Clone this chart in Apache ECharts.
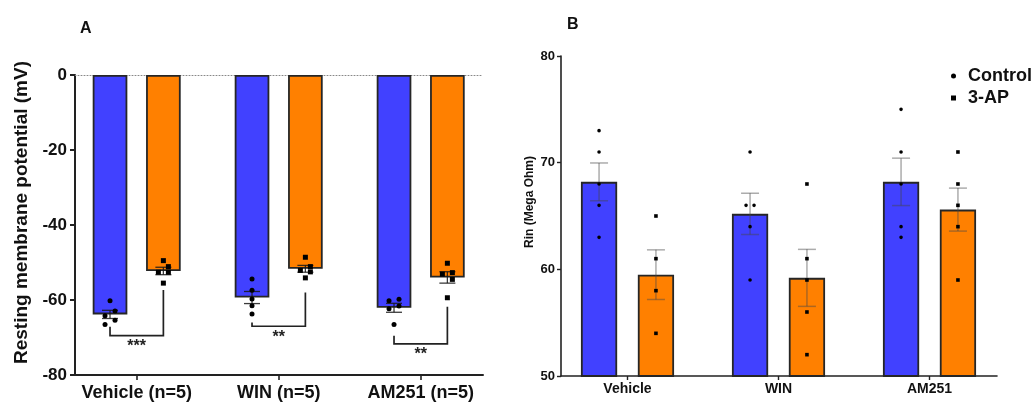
<!DOCTYPE html>
<html>
<head>
<meta charset="utf-8">
<script src="https://cdn.jsdelivr.net/npm/echarts@6/dist/echarts.min.js"></script>
<style>
html,body{margin:0;padding:0;background:#fff;}
#chart{width:1035px;height:402px;}
</style>
</head>
<body>
<div id="chart"></div>
<script>
// ---------------- DATA ----------------
// Panel A: resting membrane potential (mV), individual cells
const categoriesA = ['Vehicle (n=5)', 'WIN (n=5)', 'AM251 (n=5)'];
const controlA = [
  [-60.2, -62.9, -64.2, -65.4, -66.5],
  [-54.4, -57.4, -59.7, -61.5, -63.7],
  [-59.8, -60.2, -61.6, -62.3, -66.5]
];
const apA = [
  [-49.5, -51.1, -52.6, -52.6, -55.5],
  [-48.6, -51.1, -52.1, -52.5, -54.1],
  [-50.2, -52.7, -53.1, -54.5, -59.4]
];
// significance brackets: [control end, 3-AP end, bracket bottom] (mV)
const bracketA = [
  [-67.1, -57.3, -69.5],
  [-66.0, -58.0, -67.0],
  [-69.5, -61.8, -71.7]
];
const sigA = ['***', '**', '**'];
const yTicksA = { min: -80, max: 0, step: 20 };

// Panel B: input resistance (Mega Ohm)
const categoriesB = ['Vehicle', 'WIN', 'AM251'];
const controlB = [
  [73, 71, 68, 66, 63],
  [71, 66, 66, 64, 59],
  [75, 71, 68, 64, 63]
];
const apB = [
  [65, 61, 58, 54],
  [68, 61, 59, 56, 52],
  [71, 68, 66, 64, 59]
];
const yTicksB = { min: 50, max: 80, step: 10 };
const legendNames = ['Control', '3-AP'];

// ---------------- HELPERS ----------------
const FONT = "'Liberation Sans', Arial, Helvetica, sans-serif";
const BLUE = '#4141ff';
const ORANGE = '#ff8000';
const INK = '#111';

function mean(a) { return a.reduce((s, v) => s + v, 0) / a.length; }
function sem(a) {
  if (a.length < 2) return 0;
  const m = mean(a);
  const v = a.reduce((s, x) => s + (x - m) * (x - m), 0) / (a.length - 1);
  return Math.sqrt(v) / Math.sqrt(a.length);
}

// panel layout / style settings (axis indices of the data grid)
const PA = { xIdx: 0, yIdx: 0, barPct: 0.244, gapPct: 0.54, jitterStep: 5, jitterThr: 5.65,
  markSize: 5, capW: 16, errStroke: 'rgba(25,25,25,0.85)', errWidth: 1.3 };
const PB = { xIdx: 3, yIdx: 2, barPct: 0.24, gapPct: 0.57, jitterStep: 4, jitterThr: 5.65,
  markSize: 3.6, capW: 18, errStroke: 'rgba(70,70,70,0.45)', errWidth: 1.5 };

function sideOffset(api, P, side) {
  const band = api.size([1, 0])[0];
  const bw = band * P.barPct;
  return side * (bw + bw * P.gapPct) / 2;
}

// simple swarm: chains of vertically close points alternate right/left
function jitterSlots(ys, thr) {
  const idx = ys.map((_, i) => i).sort((a, b) => ys[a] - ys[b]);
  const out = new Array(ys.length).fill(0);
  let i = 0;
  while (i < idx.length) {
    let j = i;
    while (j + 1 < idx.length && ys[idx[j + 1]] - ys[idx[j]] < thr) j++;
    if (j > i) for (let k = i; k <= j; k++) out[idx[k]] = ((k - i) % 2 === 0) ? 1 : -1;
    i = j + 1;
  }
  return out;
}

function pointData(groups) {
  const d = [];
  groups.forEach((g, ci) => g.forEach((v, k) => d.push([ci, v, k])));
  return d;
}

function pointsSeries(name, groups, P, side, shape) {
  return {
    type: 'custom', name: name, xAxisIndex: P.xIdx, yAxisIndex: P.yIdx,
    itemStyle: { color: '#000' }, clip: false, z: 4,
    encode: { x: 0, y: 1 },
    data: pointData(groups),
    renderItem: function (params, api) {
      const ci = api.value(0), k = api.value(2);
      const vals = groups[ci];
      const ys = vals.map(v => api.coord([ci, v])[1]);
      const slots = jitterSlots(ys, P.jitterThr);
      const c = api.coord([ci, vals[k]]);
      const x = c[0] + sideOffset(api, P, side) + slots[k] * P.jitterStep;
      const s = P.markSize;
      if (shape === 'circle') {
        return { type: 'circle', shape: { cx: x, cy: c[1], r: s / 2 }, style: { fill: '#000' } };
      }
      return { type: 'rect', shape: { x: x - s / 2, y: c[1] - s / 2, width: s, height: s }, style: { fill: '#000' } };
    }
  };
}

function errorSeries(groups, P, side) {
  return {
    type: 'custom', xAxisIndex: P.xIdx, yAxisIndex: P.yIdx, clip: false, z: 3,
    encode: { x: 0, y: 1 }, silent: true,
    data: groups.map((g, ci) => [ci, mean(g), sem(g)]),
    renderItem: function (params, api) {
      const ci = api.value(0), m = api.value(1), e = api.value(2);
      const top = api.coord([ci, m + e]);
      const bot = api.coord([ci, m - e]);
      const x = top[0] + sideOffset(api, P, side);
      const w = P.capW / 2;
      const st = { stroke: P.errStroke, lineWidth: P.errWidth };
      return { type: 'group', children: [
        { type: 'line', shape: { x1: x, y1: top[1], x2: x, y2: bot[1] }, style: st },
        { type: 'line', shape: { x1: x - w, y1: top[1], x2: x + w, y2: top[1] }, style: st },
        { type: 'line', shape: { x1: x - w, y1: bot[1], x2: x + w, y2: bot[1] }, style: st }
      ]};
    }
  };
}

function barSeries(name, groups, P, color) {
  return {
    type: 'bar', name: name + ' bar', xAxisIndex: P.xIdx, yAxisIndex: P.yIdx,
    data: groups.map(mean),
    barWidth: (P.barPct * 100) + '%', barGap: (P.gapPct * 100) + '%',
    itemStyle: { color: color, borderColor: '#262626', borderWidth: 1.8 },
    silent: true, z: 2
  };
}

function bracketSeries(P) {
  return {
    type: 'custom', xAxisIndex: P.xIdx, yAxisIndex: P.yIdx, clip: false, z: 3, silent: true,
    encode: { x: 0, y: 1 },
    data: bracketA.map((b, ci) => [ci, b[0], b[1], b[2]]),
    renderItem: function (params, api) {
      const ci = api.value(0);
      const cTop = api.coord([ci, api.value(1)]);
      const aTop = api.coord([ci, api.value(2)]);
      const bot = api.coord([ci, api.value(3)]);
      const xl = cTop[0] + sideOffset(api, P, -1);
      const xr = cTop[0] + sideOffset(api, P, 1);
      return { type: 'group', children: [
        { type: 'polyline', shape: { points: [[xl, cTop[1]], [xl, bot[1]], [xr, bot[1]], [xr, aTop[1]]] },
          style: { stroke: '#222', lineWidth: 1.7, fill: null } },
        { type: 'text', style: { text: sigA[ci], x: (xl + xr) / 2, y: bot[1] + 3, align: 'center', verticalAlign: 'top',
          fontSize: 16, fontWeight: 'bold', fontFamily: FONT, fill: '#222' } }
      ]};
    }
  };
}

// ---------------- CHART ----------------
const chart = echarts.init(document.getElementById('chart'), null, { renderer: 'canvas' });

const hiddenY = (gi, t) => ({ type: 'value', gridIndex: gi, min: t.min, max: t.max, show: false });
const lineX = (gi, w) => ({ type: 'value', gridIndex: gi, min: 0, max: 1, position: 'bottom',
  axisLine: { show: true, onZero: false, lineStyle: { color: '#222', width: w } },
  axisTick: { show: false }, axisLabel: { show: false }, splitLine: { show: false } });

const option = {
  animation: false,
  backgroundColor: '#fff',
  textStyle: { fontFamily: FONT },
  title: [
    { text: 'A', left: 75, top: 16, textStyle: { fontSize: 16, fontWeight: 'bold', color: INK, fontFamily: FONT } },
    { text: 'B', left: 562, top: 12, textStyle: { fontSize: 16, fontWeight: 'bold', color: INK, fontFamily: FONT } }
  ],
  legend: {
    orient: 'vertical', left: 951, top: 67, padding: 0, itemGap: 4,
    itemWidth: 5, itemHeight: 5, selectedMode: false,
    data: [{ name: legendNames[0], icon: 'circle' }, { name: legendNames[1], icon: 'rect' }],
    textStyle: { fontSize: 18, fontWeight: 'bold', color: INK, fontFamily: FONT, padding: [0, 0, 0, 7] }
  },
  grid: [
    { left: 65.7, top: 75, width: 426, height: 300 },   // A data
    { left: 75, top: 75, width: 408, height: 300 },     // A axes
    { left: 552, top: 56, width: 453, height: 320 },    // B data
    { left: 561, top: 56, width: 436, height: 320 }     // B axes
  ],
  xAxis: [
    { type: 'category', gridIndex: 0, data: categoriesA, position: 'bottom',
      axisLine: { show: false, onZero: false },
      axisTick: { show: true, alignWithLabel: true, length: 5, lineStyle: { color: '#222', width: 1.6 } },
      axisLabel: { interval: 0, fontSize: 18, fontWeight: 'bold', color: INK, margin: 9, fontFamily: FONT },
      splitLine: { show: false } },
    lineX(1, 2),
    { type: 'value', gridIndex: 1, min: 0, max: 1, position: 'top',
      axisLine: { show: true, onZero: false, lineStyle: { color: '#888', width: 1, type: [1, 2] } },
      axisTick: { show: false }, axisLabel: { show: false }, splitLine: { show: false } },
    { type: 'category', gridIndex: 2, data: categoriesB, position: 'bottom',
      axisLine: { show: false, onZero: false },
      axisTick: { show: true, alignWithLabel: true, length: 4, lineStyle: { color: '#222', width: 1.4 } },
      axisLabel: { interval: 0, fontSize: 14, fontWeight: 'bold', color: INK, margin: 6, fontFamily: FONT },
      splitLine: { show: false } },
    lineX(3, 1.6)
  ],
  yAxis: [
    hiddenY(0, yTicksA),
    { type: 'value', gridIndex: 1, min: yTicksA.min, max: yTicksA.max, interval: yTicksA.step,
      axisLine: { show: true, onZero: false, lineStyle: { color: '#222', width: 2 } },
      axisTick: { show: true, length: 5, lineStyle: { color: '#222', width: 2 } },
      axisLabel: { fontSize: 17, fontWeight: 'bold', color: INK, margin: 8, fontFamily: FONT },
      splitLine: { show: false },
      name: 'Resting membrane potential (mV)', nameLocation: 'middle', nameGap: 44,
      nameTextStyle: { fontSize: 19, fontWeight: 'bold', color: INK, fontFamily: FONT, padding: [0, 0, 0, 25] } },
    hiddenY(2, yTicksB),
    { type: 'value', gridIndex: 3, min: yTicksB.min, max: yTicksB.max, interval: yTicksB.step,
      axisLine: { show: true, onZero: false, lineStyle: { color: '#222', width: 1.6 } },
      axisTick: { show: true, length: 4, lineStyle: { color: '#222', width: 1.4 } },
      axisLabel: { fontSize: 13, fontWeight: 'bold', color: INK, margin: 6, fontFamily: FONT },
      splitLine: { show: false },
      name: 'Rin (Mega Ohm)', nameLocation: 'middle', nameGap: 25,
      nameTextStyle: { fontSize: 12, fontWeight: 'bold', color: INK, fontFamily: FONT, padding: [0, 0, 0, 28] } }
  ],
  series: [
    barSeries('Control A', controlA, PA, BLUE),
    barSeries('3-AP A', apA, PA, ORANGE),
    errorSeries(controlA, PA, -1),
    errorSeries(apA, PA, 1),
    pointsSeries(legendNames[0], controlA, PA, -1, 'circle'),
    pointsSeries(legendNames[1], apA, PA, 1, 'rect'),
    bracketSeries(PA),
    barSeries('Control B', controlB, PB, BLUE),
    barSeries('3-AP B', apB, PB, ORANGE),
    errorSeries(controlB, PB, -1),
    errorSeries(apB, PB, 1),
    pointsSeries(legendNames[0], controlB, PB, -1, 'circle'),
    pointsSeries(legendNames[1], apB, PB, 1, 'rect')
  ]
};
chart.setOption(option);
</script>
</body>
</html>
